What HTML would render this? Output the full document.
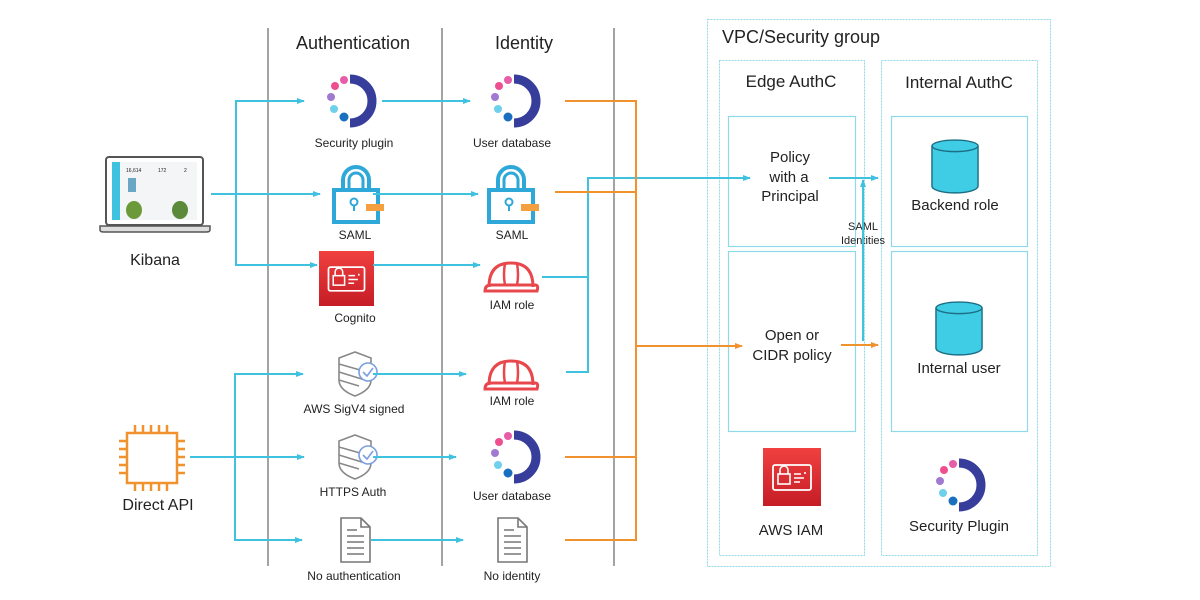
<!DOCTYPE html>
<html><head><meta charset="utf-8"><style>
body{margin:0;background:#fff}
svg{display:block}
text{font-family:"Liberation Sans","DejaVu Sans",sans-serif;fill:#222}
</style></head><body>
<svg width="1200" height="600" viewBox="0 0 1200 600" xmlns="http://www.w3.org/2000/svg">
<defs>
<marker id="ab" markerWidth="8" markerHeight="8" refX="7" refY="4" orient="auto" markerUnits="userSpaceOnUse"><path d="M0,1 L8,4 L0,7 Z" fill="#3fc1e0"/></marker>
<marker id="ao" markerWidth="8" markerHeight="8" refX="7" refY="4" orient="auto" markerUnits="userSpaceOnUse"><path d="M0,1 L8,4 L0,7 Z" fill="#f0922e"/></marker>
<symbol id="plug" viewBox="-25 -25 50 50" overflow="visible">
<path d="M2,-22 A22,22 0 0 1 2,22" fill="none" stroke="#363d9a" stroke-width="9"/>
<circle cx="-4" cy="-21" r="4" fill="#e75da8"/>
<circle cx="-13" cy="-15" r="4" fill="#ef4f8f"/>
<circle cx="-17" cy="-4" r="4" fill="#a07ad0"/>
<circle cx="-14" cy="8" r="4" fill="#6fd0ec"/>
<circle cx="-4" cy="16" r="4.5" fill="#1a6fbf"/>
</symbol>
<symbol id="lock" viewBox="-25 -30 50 60" overflow="visible">
<path d="M-13,-4 V-14 A13,13 0 0 1 13,-14 V-4" fill="none" stroke="#2ea8d8" stroke-width="4"/>
<path d="M-7,-4 V-14 A7,7 0 0 1 7,-14 V-4" fill="none" stroke="#2ea8d8" stroke-width="3"/>
<rect x="-22" y="-4" width="44" height="32" fill="#fff" stroke="#2ea8d8" stroke-width="4"/>
<circle cx="-2" cy="8" r="3.5" fill="none" stroke="#2ea8d8" stroke-width="2"/>
<path d="M-2,11 V17" stroke="#2ea8d8" stroke-width="2"/>
<rect x="10" y="10" width="18" height="7" fill="#f5a040"/>
</symbol>
<symbol id="hat" viewBox="-28 -18 56 36" overflow="visible">
<path d="M-22,10 Q-22,-14 0,-14 Q22,-14 22,10" fill="none" stroke="#e8474c" stroke-width="3"/>
<path d="M-6,-14 Q-8,-2 -6,8 M6,-14 Q8,-2 6,8" fill="none" stroke="#e8474c" stroke-width="2.5"/>
<path d="M-26,14 Q-26,8 -20,8 H24 Q28,8 26,14 Z" fill="none" stroke="#e8474c" stroke-width="3"/>
</symbol>
<symbol id="shield" viewBox="-22 -24 44 48" overflow="visible">
<path d="M-16,-16 L0,-22 L16,-16 V6 Q16,16 0,22 Q-16,16 -16,6 Z" fill="#fff" stroke="#888" stroke-width="1.6"/>
<path d="M-16,-10 L12,-2 M-16,-2 L10,6 M-16,6 L4,12" stroke="#888" stroke-width="1.5"/>
<circle cx="13" cy="-2" r="9" fill="#fff" stroke="#7b9fe0" stroke-width="1.6"/>
<path d="M8,-2 L12,2 L18,-6" fill="none" stroke="#7b9fe0" stroke-width="1.6"/>
</symbol>
<symbol id="doc" viewBox="-18 -24 36 48" overflow="visible">
<path d="M-14,-22 H6 L15,-13 V22 H-14 Z" fill="#fff" stroke="#777" stroke-width="1.6"/>
<path d="M6,-22 V-13 H15" fill="none" stroke="#777" stroke-width="1.6"/>
<path d="M-8,-10 H2 M-8,-4 H9 M-8,2 H9 M-8,8 H9 M-8,14 H9" stroke="#777" stroke-width="1.6"/>
</symbol>
<linearGradient id="rg" x1="0" y1="0" x2="0" y2="1"><stop offset="0" stop-color="#f0413f"/><stop offset="1" stop-color="#c51c26"/></linearGradient>
<symbol id="iam" viewBox="0 0 58 58" overflow="visible">
<rect width="58" height="58" fill="url(#rg)"/>
<rect x="10" y="17" width="38" height="25" rx="2" fill="none" stroke="#fff" stroke-width="1.8"/>
<rect x="15" y="26" width="12" height="10" fill="none" stroke="#fff" stroke-width="1.6"/>
<path d="M17,26 V22 A4,4 0 0 1 25,22 V26" fill="none" stroke="#fff" stroke-width="1.6"/>
<path d="M31,26 H38 M31,30 H41 M31,34 H37 M42,24 V26" stroke="#fff" stroke-width="1.6"/>
</symbol>
<symbol id="cyl" viewBox="0 0 50 56" overflow="visible">
<path d="M1,7 V49 A24,7 0 0 0 49,49 V7" fill="#3fcde6" stroke="#1d6f85" stroke-width="1.5"/>
<ellipse cx="25" cy="7" rx="24" ry="6" fill="#3fcde6" stroke="#1d6f85" stroke-width="1.5"/>
</symbol>
</defs>

<!-- column separators -->
<g stroke="#666" stroke-width="1.2">
<line x1="268" y1="28" x2="268" y2="566"/>
<line x1="442" y1="28" x2="442" y2="566"/>
<line x1="614" y1="28" x2="614" y2="566"/>
</g>
<text x="353" y="49" font-size="18" text-anchor="middle">Authentication</text>
<text x="524" y="49" font-size="18" text-anchor="middle">Identity</text>

<!-- VPC -->
<rect x="707.5" y="19.5" width="343" height="547" fill="none" stroke="#8fd9ea" stroke-width="1" stroke-dasharray="2,1"/>
<text x="722" y="43" font-size="18">VPC/Security group</text>
<rect x="719.5" y="60.5" width="145" height="495" fill="none" stroke="#8fd9ea" stroke-dasharray="2,1"/>
<rect x="881.5" y="60.5" width="156" height="495" fill="none" stroke="#8fd9ea" stroke-dasharray="2,1"/>
<text x="791" y="87" font-size="17" text-anchor="middle">Edge AuthC</text>
<text x="959" y="88" font-size="17" text-anchor="middle">Internal AuthC</text>
<g fill="none" stroke="#8fd9ea" stroke-width="1.2">
<rect x="728.5" y="116.5" width="127" height="130"/>
<rect x="728.5" y="251.5" width="127" height="180"/>
<rect x="891.5" y="116.5" width="136" height="130"/>
<rect x="891.5" y="251.5" width="136" height="180"/>
</g>
<g font-size="15" text-anchor="middle">
<text x="790" y="162">Policy</text><text x="789" y="182">with a</text><text x="790" y="201">Principal</text>
<text x="792" y="340">Open or</text><text x="792" y="360">CIDR policy</text>
<text x="955" y="210">Backend role</text>
<text x="959" y="373">Internal user</text>
<text x="791" y="535">AWS IAM</text>
<text x="959" y="531">Security Plugin</text>
</g>
<text x="863" y="230" font-size="11" text-anchor="middle">SAML</text>
<text x="863" y="244" font-size="11" text-anchor="middle">Identities</text>
<use href="#cyl" x="931" y="138" width="48" height="56"/>
<use href="#cyl" x="935" y="300" width="48" height="56"/>
<use href="#iam" x="763" y="448" width="58" height="58"/>
<use href="#plug" x="932" y="460" width="50" height="50"/>

<!-- left sources -->
<g>
<rect x="106" y="157" width="97" height="68" rx="3" fill="#fff" stroke="#555" stroke-width="2"/>
<rect x="112" y="162" width="85" height="58" fill="#f3f5f7"/>
<rect x="112" y="162" width="8" height="58" fill="#3fc1e0"/>
<rect x="128" y="178" width="8" height="14" fill="#6aa7c4"/>
<ellipse cx="134" cy="210" rx="8" ry="9" fill="#6c9a3a"/>
<ellipse cx="180" cy="210" rx="8" ry="9" fill="#5a8a3a"/>
<text x="126" y="172" font-size="5">16,614</text><text x="158" y="172" font-size="5">172</text><text x="184" y="172" font-size="5">2</text>
<path d="M100,226 H210 V230 Q210,232 206,232 H104 Q100,232 100,230 Z" fill="#ddd" stroke="#555" stroke-width="1.5"/>
</g>
<text x="155" y="265" font-size="16" text-anchor="middle">Kibana</text>
<g stroke="#f0922e" stroke-width="2.5" fill="none">
<rect x="127" y="433" width="50" height="50"/>
<path d="M135,425 V433 M143,425 V433 M151,425 V433 M159,425 V433 M167,425 V433
M135,483 V491 M143,483 V491 M151,483 V491 M159,483 V491 M167,483 V491
M119,441 H127 M119,449 H127 M119,457 H127 M119,465 H127 M119,473 H127
M177,441 H185 M177,449 H185 M177,457 H185 M177,465 H185 M177,473 H185"/>
</g>
<text x="158" y="510" font-size="16" text-anchor="middle">Direct API</text>

<!-- auth column icons -->
<use href="#plug" x="323" y="76" width="50" height="50"/>
<text x="354" y="147" font-size="12" text-anchor="middle">Security plugin</text>
<use href="#lock" x="331" y="164" width="50" height="60"/>
<text x="355" y="239" font-size="12" text-anchor="middle">SAML</text>
<use href="#iam" x="319" y="251" width="55" height="55"/>
<text x="355" y="322" font-size="12" text-anchor="middle">Cognito</text>
<use href="#shield" x="333" y="350" width="44" height="48"/>
<text x="354" y="413" font-size="12" text-anchor="middle">AWS SigV4 signed</text>
<use href="#shield" x="333" y="433" width="44" height="48"/>
<text x="353" y="496" font-size="12" text-anchor="middle">HTTPS Auth</text>
<use href="#doc" x="337" y="516" width="36" height="48"/>
<text x="354" y="580" font-size="12" text-anchor="middle">No authentication</text>

<!-- identity column icons -->
<use href="#plug" x="487" y="76" width="50" height="50"/>
<text x="512" y="147" font-size="12" text-anchor="middle">User database</text>
<use href="#lock" x="486" y="164" width="50" height="60"/>
<text x="512" y="239" font-size="12" text-anchor="middle">SAML</text>
<use href="#hat" x="483" y="259" width="56" height="36"/>
<text x="512" y="309" font-size="12" text-anchor="middle">IAM role</text>
<use href="#hat" x="483" y="357" width="56" height="36"/>
<text x="512" y="405" font-size="12" text-anchor="middle">IAM role</text>
<use href="#plug" x="487" y="432" width="50" height="50"/>
<text x="512" y="500" font-size="12" text-anchor="middle">User database</text>
<use href="#doc" x="494" y="516" width="36" height="48"/>
<text x="512" y="580" font-size="12" text-anchor="middle">No identity</text>

<!-- blue connectors -->
<g stroke="#3fc1e0" stroke-width="2" fill="none">
<path d="M211,194 H320" marker-end="url(#ab)"/>
<path d="M304,101 H236 V265 H317" marker-end="url(#ab)"/>
<path d="M236,101 H304" marker-end="url(#ab)"/>
<path d="M382,101 H470" marker-end="url(#ab)"/>
<path d="M373,194 H478" marker-end="url(#ab)"/>
<path d="M373,265 H480" marker-end="url(#ab)"/>
<path d="M190,457 H304" marker-end="url(#ab)"/>
<path d="M303,374 H235 V540 H302" marker-end="url(#ab)"/>
<path d="M235,374 H303" marker-end="url(#ab)"/>
<path d="M373,374 H466" marker-end="url(#ab)"/>
<path d="M373,457 H456" marker-end="url(#ab)"/>
<path d="M371,540 H463" marker-end="url(#ab)"/>
<path d="M542,277 H588 V178 H750" marker-end="url(#ab)"/>
<path d="M566,372 H588 V277"/>
<path d="M829,178 H878" marker-end="url(#ab)"/>
<path d="M863,341 V180" marker-end="url(#ab)"/>
</g>
<!-- orange connectors -->
<g stroke="#f0922e" stroke-width="2" fill="none">
<path d="M565,101 H636 V540 H565"/>
<path d="M555,192 H636"/>
<path d="M565,457 H636"/>
<path d="M636,346 H742" marker-end="url(#ao)"/>
<path d="M841,345 H878" marker-end="url(#ao)"/>
</g>
</svg>
</body></html>
